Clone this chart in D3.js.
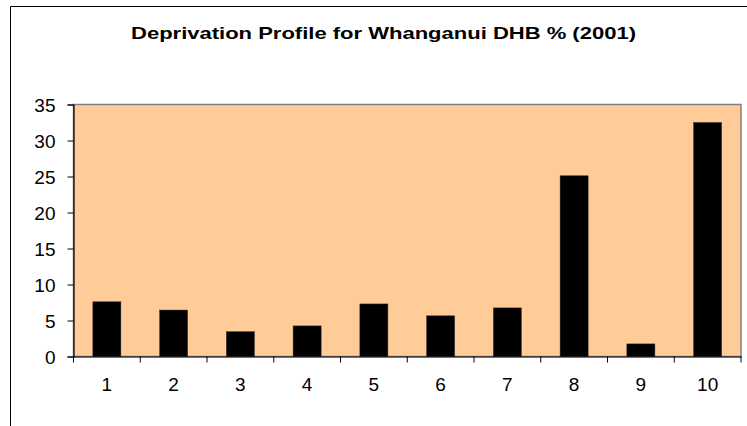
<!DOCTYPE html>
<html><head><meta charset="utf-8">
<script src="https://cdn.jsdelivr.net/npm/d3@7"></script>
<style>body{margin:0;background:#fff;}svg{display:block;}</style>
</head><body>
<svg id="c" width="747" height="426"></svg>
<script>
const title = "Deprivation Profile for Whanganui DHB % (2001)";
const categories = ["1","2","3","4","5","6","7","8","9","10"];
const values = [7.6, 6.45, 3.45, 4.25, 7.3, 5.65, 6.75, 25.1, 1.75, 32.5];
const yTicks = [0,5,10,15,20,25,30,35];

const svg = d3.select("#c");
const font = "'Liberation Sans', Arial, sans-serif";
const m = {left: 73.5, right: 741, top: 104.5, bottom: 356.5};

// outer chart border (left & top visible)
svg.append("path").attr("d","M10.5,426 V6.5 H747").attr("fill","none").attr("stroke","#000").attr("stroke-width",1);

svg.append("text").attr("x",383.5).attr("y",39).attr("text-anchor","middle")
  .attr("font-family",font).attr("font-weight","bold").attr("font-size",16.5)
  .attr("textLength",505).attr("lengthAdjust","spacingAndGlyphs").text(title);

const x = d3.scaleBand().domain(categories).range([m.left, m.right]).paddingInner(0.58).paddingOuter(0.29);
const xb = d3.scaleBand().domain(categories).range([m.left, m.right]);
const y = d3.scaleLinear().domain([0,35]).range([m.bottom, m.top]);

svg.append("rect").attr("x",m.left).attr("y",m.top).attr("width",m.right-m.left).attr("height",m.bottom-m.top)
  .attr("fill","#FFCC99").attr("stroke","#808080").attr("stroke-width",1.5);

svg.selectAll("rect.bar").data(values).join("rect").attr("class","bar")
  .attr("x",(d,i)=>x(categories[i])).attr("width",x.bandwidth())
  .attr("y",d=>y(d)).attr("height",d=>y(0)-y(d))
  .attr("fill","#000").attr("stroke","#333").attr("stroke-width",0.5);

// y axis
const ya = svg.append("g").attr("transform",`translate(${m.left},0)`)
  .call(d3.axisLeft(y).tickValues(yTicks).tickSize(6).tickPadding(12));
ya.select(".domain").attr("stroke","#000").attr("stroke-width",1.2);
ya.selectAll(".tick line").attr("stroke","#000");
ya.selectAll("text").attr("font-family",font).attr("font-size",19).attr("fill","#000").attr("dy","0.36em");

// x axis
const xa = svg.append("g").attr("transform",`translate(0,${m.bottom})`)
  .call(d3.axisBottom(xb).tickSize(0).tickPadding(21));
xa.select(".domain").attr("stroke","#000").attr("stroke-width",1.2);
xa.selectAll("text").attr("font-family",font).attr("font-size",19).attr("fill","#000");
// category boundary ticks
const bounds = categories.map(c=>xb(c)).concat([m.right]);
svg.selectAll("line.xt").data(bounds).join("line").attr("class","xt")
  .attr("x1",d=>d).attr("x2",d=>d).attr("y1",m.bottom).attr("y2",m.bottom+6)
  .attr("stroke","#000").attr("stroke-width",1);
</script>
</body></html>
